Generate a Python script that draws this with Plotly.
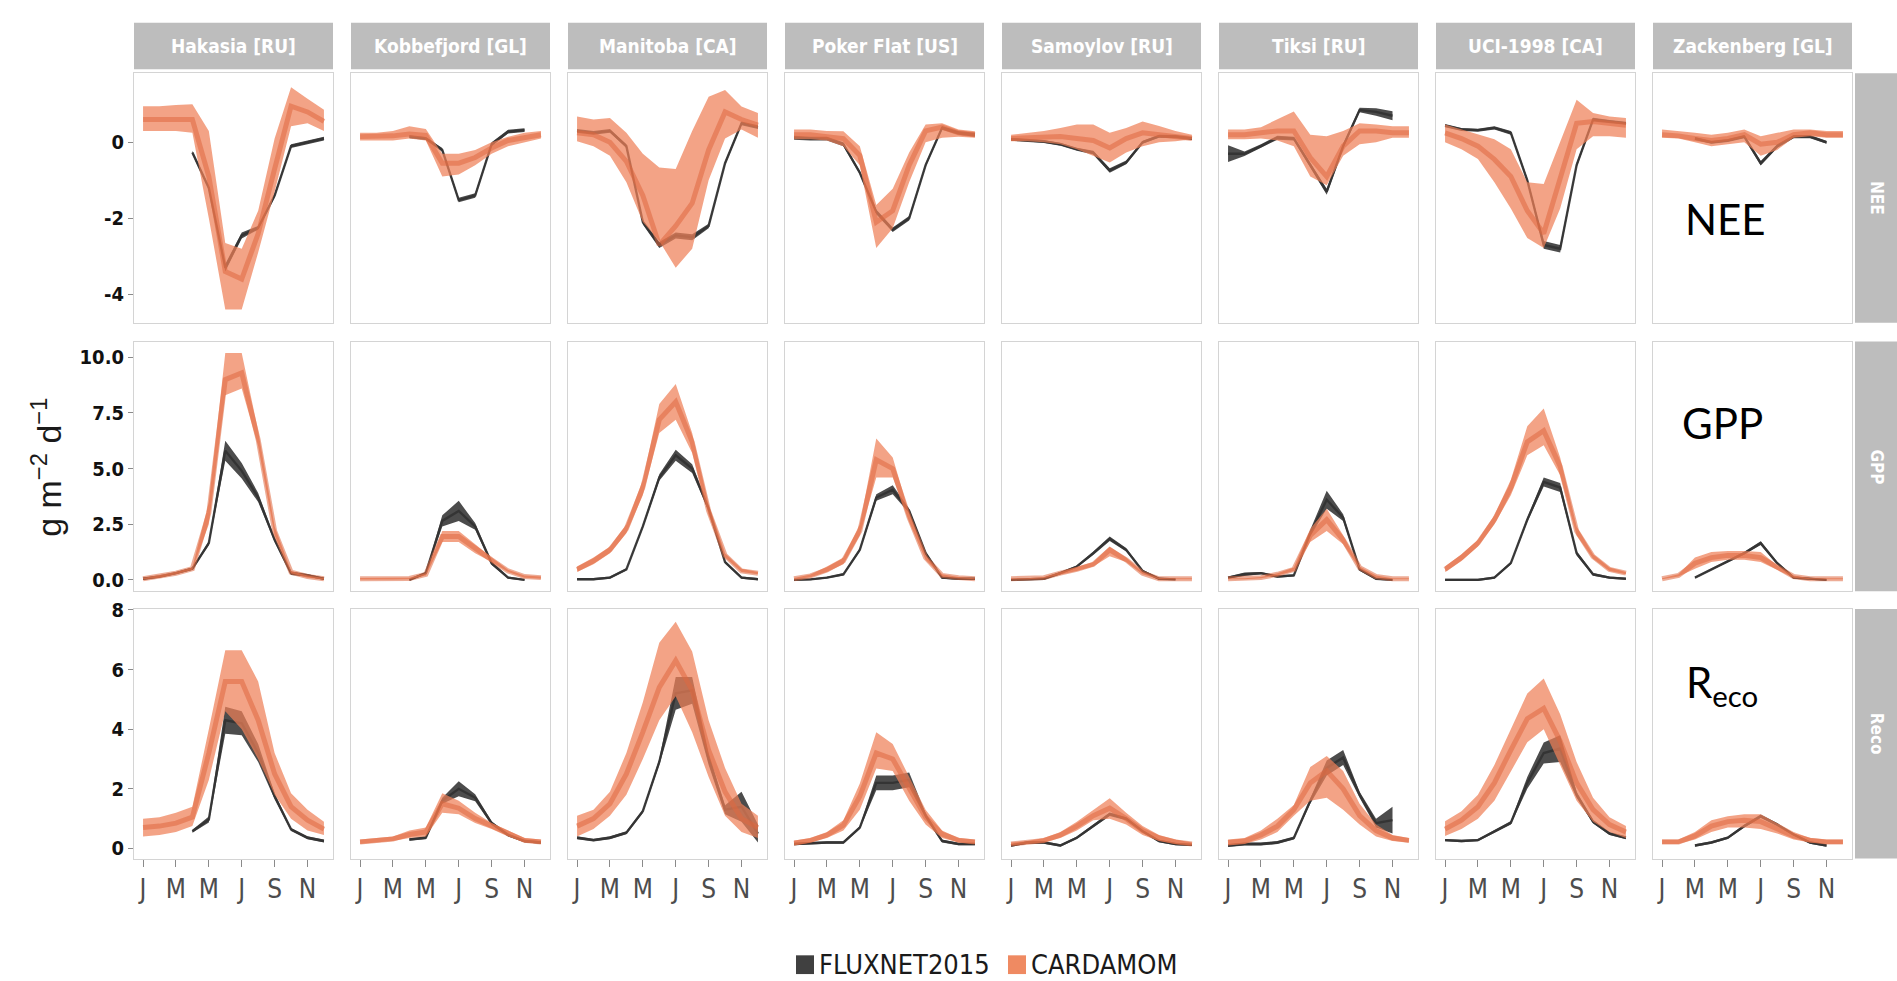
import plotly.graph_objects as go

W, H = 1897, 981

SITES = ["Hakasia [RU]", "Kobbefjord [GL]", "Manitoba [CA]", "Poker Flat [US]",
         "Samoylov [RU]", "Tiksi [RU]", "UCI-1998 [CA]", "Zackenberg [GL]"]
VARIABLES = ["NEE", "GPP", "Reco"]
VAR_LABELS = ["NEE", "GPP", "R<sub>eco</sub>"]
MONTHS = [1, 2, 3, 4, 5, 6, 7, 8, 9, 10, 11, 12]
MONTH_TICKS = [1, 3, 5, 7, 9, 11]
MONTH_LABELS = ["J", "M", "M", "J", "S", "N"]
N = None

# ---------------- NEE ----------------
NEE_FLX_MID = [
    [N, N, N, -0.27, -1.2, -3.3, -2.45, -2.25, -1.4, -0.1, 0.0, 0.1],
    [N, N, N, 0.15, 0.1, -0.2, -1.52, -1.4, -0.05, 0.28, 0.32, N],
    [0.3, 0.25, 0.3, -0.1, -2.1, -2.7, -2.45, -2.5, -2.2, -0.55, 0.5, 0.4],
    [0.12, 0.1, 0.1, -0.05, -0.8, -1.83, -2.3, -2.0, -0.6, 0.38, 0.25, 0.2],
    [0.08, 0.05, 0.02, -0.05, -0.18, -0.27, -0.74, -0.53, 0.0, 0.16, 0.15, 0.1],
    [-0.3, -0.3, -0.1, 0.12, 0.1, -0.6, -1.3, -0.1, 0.85, 0.8, 0.7, N],
    [0.44, 0.34, 0.32, 0.38, 0.25, -1.0, -2.7, -2.8, -0.6, 0.6, 0.55, 0.5],
    [N, N, 0.1, 0.0, 0.05, 0.15, -0.55, -0.1, 0.15, 0.15, 0.0, N],
]
NEE_FLX_SD = [
    [N, N, N, 0.05, 0.05, 0.1, 0.08, 0.05, 0.05, 0.05, 0.05, 0.05],
    [N, N, N, 0.04, 0.04, 0.05, 0.06, 0.06, 0.05, 0.05, 0.05, N],
    [0.05, 0.05, 0.05, 0.05, 0.06, 0.08, 0.08, 0.08, 0.06, 0.05, 0.05, 0.05],
    [0.05, 0.05, 0.05, 0.05, 0.05, 0.06, 0.06, 0.06, 0.05, 0.05, 0.05, 0.05],
    [0.04, 0.04, 0.04, 0.04, 0.04, 0.05, 0.06, 0.05, 0.04, 0.04, 0.04, 0.04],
    [0.22, 0.06, 0.05, 0.05, 0.05, 0.05, 0.08, 0.06, 0.06, 0.1, 0.12, N],
    [0.04, 0.04, 0.04, 0.04, 0.05, 0.06, 0.1, 0.1, 0.06, 0.05, 0.04, 0.04],
    [N, N, 0.04, 0.04, 0.04, 0.04, 0.06, 0.05, 0.04, 0.04, 0.04, N],
]
NEE_CAR_LO = [
    [0.3, 0.3, 0.3, 0.25, -2.0, -4.4, -4.4, -2.9, -1.3, 0.42, 0.5, 0.3],
    [0.05, 0.05, 0.05, 0.1, 0.05, -0.9, -0.85, -0.6, -0.3, -0.1, 0.0, 0.1],
    [0.03, -0.1, -0.35, -1.05, -2.1, -2.6, -3.3, -2.8, -1.0, 0.1, 0.34, 0.12],
    [0.08, 0.08, 0.05, -0.1, -0.6, -2.78, -2.26, -1.05, 0.0, 0.12, 0.15, 0.12],
    [0.03, 0.03, 0.0, -0.05, -0.18, -0.35, -0.53, -0.27, -0.1, 0.0, 0.03, 0.08],
    [0.08, 0.08, 0.1, 0.05, -0.1, -0.9, -1.13, -0.35, -0.05, 0.0, 0.12, 0.12],
    [0.0, -0.18, -0.44, -1.05, -1.74, -2.52, -2.78, -1.74, -0.18, 0.16, 0.16, 0.12],
    [0.12, 0.1, 0.0, -0.1, -0.05, 0.0, -0.35, -0.2, 0.12, 0.16, 0.12, 0.12],
]
NEE_CAR_MID = [
    [0.6, 0.6, 0.62, 0.6, -0.9, -3.4, -3.6, -2.4, -0.7, 0.95, 0.8, 0.55],
    [0.15, 0.15, 0.17, 0.22, 0.18, -0.55, -0.55, -0.4, -0.15, 0.05, 0.12, 0.2],
    [0.25, 0.2, 0.0, -0.5, -1.4, -2.7, -2.2, -1.6, -0.2, 0.8, 0.6, 0.45],
    [0.2, 0.2, 0.15, 0.1, -0.35, -2.1, -1.8, -0.6, 0.3, 0.4, 0.25, 0.2],
    [0.1, 0.12, 0.12, 0.15, 0.1, 0.05, -0.15, 0.1, 0.25, 0.2, 0.12, 0.1],
    [0.2, 0.2, 0.25, 0.3, 0.3, -0.4, -0.9, -0.1, 0.3, 0.3, 0.25, 0.25],
    [0.25, 0.1, -0.1, -0.45, -0.9, -1.8, -2.4, -0.9, 0.5, 0.55, 0.5, 0.45],
    [0.2, 0.17, 0.1, 0.05, 0.1, 0.2, -0.05, 0.0, 0.2, 0.25, 0.2, 0.2],
]
NEE_CAR_HI = [
    [0.95, 0.95, 0.98, 1.0, 0.3, -2.65, -2.8, -1.8, 0.1, 1.45, 1.15, 0.86],
    [0.25, 0.25, 0.3, 0.42, 0.35, -0.3, -0.3, -0.2, 0.0, 0.15, 0.25, 0.3],
    [0.68, 0.6, 0.64, 0.25, -0.3, -0.66, -0.7, 0.3, 1.2, 1.38, 0.94, 0.77],
    [0.34, 0.34, 0.3, 0.29, -0.1, -1.65, -1.22, -0.27, 0.47, 0.5, 0.34, 0.29],
    [0.2, 0.25, 0.3, 0.38, 0.47, 0.47, 0.25, 0.38, 0.55, 0.43, 0.3, 0.2],
    [0.34, 0.34, 0.4, 0.6, 0.81, 0.2, 0.16, 0.3, 0.5, 0.47, 0.42, 0.42],
    [0.47, 0.34, 0.2, 0.08, -0.18, -1.05, -1.1, 0.0, 1.12, 0.77, 0.68, 0.64],
    [0.34, 0.3, 0.25, 0.2, 0.25, 0.34, 0.16, 0.25, 0.34, 0.34, 0.3, 0.3],
]

# ---------------- GPP ----------------
GPP_FLX_MID = [
    [0.05, 0.15, 0.3, 0.5, 1.65, 5.8, 4.9, 3.7, 1.8, 0.3, 0.2, 0.05],
    [N, N, N, 0.0, 0.3, 2.65, 3.1, 2.4, 0.75, 0.1, 0.0, N],
    [0.03, 0.03, 0.1, 0.47, 2.4, 4.6, 5.6, 5.0, 3.2, 0.8, 0.1, 0.03],
    [0.0, 0.02, 0.1, 0.25, 1.35, 3.7, 4.05, 3.1, 1.2, 0.1, 0.05, 0.05],
    [0.0, 0.02, 0.05, 0.3, 0.6, 1.2, 1.85, 1.35, 0.4, 0.05, 0.02, N],
    [0.1, 0.25, 0.3, 0.15, 0.2, 2.1, 3.6, 2.8, 0.47, 0.05, 0.0, N],
    [0.0, 0.0, 0.0, 0.1, 0.75, 2.7, 4.4, 4.15, 1.2, 0.25, 0.1, 0.05],
    [N, N, 0.1, 0.47, 0.85, 1.2, 1.65, 0.75, 0.1, 0.05, 0.0, N],
]
GPP_FLX_SD = [
    [0.04, 0.04, 0.04, 0.05, 0.1, 0.45, 0.35, 0.2, 0.1, 0.08, 0.06, 0.05],
    [N, N, N, 0.04, 0.05, 0.25, 0.45, 0.15, 0.08, 0.05, 0.04, N],
    [0.05, 0.05, 0.05, 0.05, 0.08, 0.15, 0.25, 0.2, 0.1, 0.06, 0.05, 0.05],
    [0.04, 0.04, 0.04, 0.05, 0.08, 0.15, 0.2, 0.1, 0.08, 0.05, 0.04, 0.04],
    [0.04, 0.04, 0.04, 0.05, 0.05, 0.08, 0.1, 0.08, 0.05, 0.04, 0.04, N],
    [0.05, 0.08, 0.05, 0.05, 0.05, 0.15, 0.4, 0.15, 0.06, 0.04, 0.04, N],
    [0.05, 0.05, 0.05, 0.05, 0.06, 0.1, 0.2, 0.2, 0.1, 0.06, 0.05, 0.05],
    [N, N, 0.04, 0.04, 0.05, 0.06, 0.08, 0.06, 0.05, 0.04, 0.04, N],
]
GPP_CAR_LO = [
    [0.03, 0.1, 0.25, 0.45, 2.5, 8.3, 8.6, 6.0, 2.0, 0.3, 0.1, 0.02],
    [0.02, 0.02, 0.02, 0.03, 0.2, 1.7, 1.7, 1.2, 0.8, 0.35, 0.1, 0.05],
    [0.35, 0.7, 1.2, 2.1, 3.8, 6.6, 7.2, 5.7, 2.9, 1.0, 0.35, 0.25],
    [0.02, 0.12, 0.35, 0.7, 2.0, 4.6, 4.6, 2.6, 0.9, 0.15, 0.07, 0.03],
    [0.03, 0.03, 0.07, 0.25, 0.4, 0.6, 1.06, 0.8, 0.25, 0.03, 0.03, 0.03],
    [0.03, 0.03, 0.07, 0.2, 0.4, 1.7, 2.2, 1.6, 0.5, 0.1, 0.03, 0.03],
    [0.35, 0.85, 1.5, 2.5, 3.8, 5.6, 6.05, 4.7, 2.0, 0.95, 0.4, 0.25],
    [0.03, 0.15, 0.5, 0.8, 0.9, 0.9, 0.8, 0.45, 0.1, 0.03, 0.03, 0.03],
]
GPP_CAR_MID = [
    [0.05, 0.15, 0.3, 0.5, 3.0, 9.0, 9.3, 6.3, 2.2, 0.35, 0.15, 0.05],
    [0.05, 0.05, 0.05, 0.06, 0.25, 1.95, 1.95, 1.4, 0.9, 0.4, 0.15, 0.1],
    [0.47, 0.85, 1.35, 2.3, 4.15, 7.2, 8.0, 6.2, 3.1, 1.1, 0.4, 0.3],
    [0.05, 0.18, 0.45, 0.85, 2.2, 5.4, 5.0, 2.8, 1.0, 0.2, 0.1, 0.05],
    [0.05, 0.05, 0.1, 0.3, 0.47, 0.7, 1.35, 0.9, 0.3, 0.05, 0.05, 0.05],
    [0.05, 0.05, 0.1, 0.25, 0.47, 2.0, 2.7, 1.8, 0.55, 0.15, 0.05, 0.05],
    [0.47, 1.0, 1.65, 2.7, 4.15, 6.2, 6.7, 5.1, 2.2, 1.05, 0.47, 0.3],
    [0.05, 0.2, 0.75, 1.0, 1.1, 1.1, 1.0, 0.55, 0.15, 0.05, 0.05, 0.05],
]
GPP_CAR_HI = [
    [0.08, 0.2, 0.35, 0.55, 3.5, 10.2, 10.2, 6.7, 2.4, 0.4, 0.2, 0.08],
    [0.08, 0.08, 0.08, 0.1, 0.3, 2.2, 2.2, 1.6, 1.0, 0.45, 0.2, 0.15],
    [0.6, 1.0, 1.5, 2.5, 4.5, 7.9, 8.8, 6.6, 3.4, 1.2, 0.5, 0.35],
    [0.08, 0.24, 0.6, 1.0, 2.5, 6.35, 5.5, 3.0, 1.1, 0.25, 0.13, 0.07],
    [0.07, 0.07, 0.13, 0.35, 0.55, 0.8, 1.5, 1.0, 0.35, 0.08, 0.07, 0.07],
    [0.07, 0.07, 0.13, 0.3, 0.55, 2.3, 3.2, 2.0, 0.6, 0.2, 0.07, 0.07],
    [0.6, 1.15, 1.8, 2.9, 4.5, 6.9, 7.7, 5.5, 2.4, 1.15, 0.55, 0.35],
    [0.07, 0.25, 1.0, 1.25, 1.3, 1.3, 1.25, 0.65, 0.2, 0.07, 0.07, 0.07],
]

# ---------------- Reco ----------------
RECO_FLX_MID = [
    [N, N, N, 0.58, 0.97, 4.3, 4.2, 3.2, 1.75, 0.64, 0.36, 0.25],
    [N, N, N, 0.3, 0.36, 1.6, 2.0, 1.7, 0.85, 0.45, 0.25, 0.2],
    [0.36, 0.28, 0.36, 0.53, 1.25, 2.9, 5.2, 5.3, 3.0, 1.3, 1.4, 0.5],
    [0.15, 0.18, 0.2, 0.2, 0.7, 2.2, 2.2, 2.3, 1.1, 0.25, 0.15, 0.15],
    [0.1, 0.2, 0.2, 0.1, 0.36, 0.75, 1.15, 1.0, 0.58, 0.25, 0.15, 0.12],
    [0.1, 0.15, 0.15, 0.2, 0.35, 1.6, 2.7, 3.05, 1.8, 0.85, 0.95, N],
    [0.28, 0.25, 0.28, 0.58, 0.86, 2.2, 3.2, 3.35, 1.8, 0.9, 0.5, 0.36],
    [N, N, 0.1, 0.2, 0.36, 0.75, 1.08, 0.8, 0.47, 0.2, 0.1, N],
]
RECO_FLX_SD = [
    [N, N, N, 0.05, 0.1, 0.45, 0.4, 0.3, 0.1, 0.05, 0.05, 0.05],
    [N, N, N, 0.04, 0.05, 0.1, 0.25, 0.12, 0.06, 0.05, 0.04, 0.04],
    [0.05, 0.05, 0.05, 0.05, 0.06, 0.1, 0.55, 0.45, 0.2, 0.15, 0.5, 0.3],
    [0.04, 0.04, 0.04, 0.04, 0.05, 0.25, 0.25, 0.25, 0.08, 0.05, 0.04, 0.04],
    [0.04, 0.04, 0.04, 0.04, 0.04, 0.05, 0.06, 0.05, 0.04, 0.04, 0.04, 0.04],
    [0.05, 0.05, 0.05, 0.05, 0.05, 0.1, 0.25, 0.25, 0.1, 0.15, 0.45, N],
    [0.04, 0.04, 0.04, 0.05, 0.06, 0.2, 0.35, 0.45, 0.1, 0.06, 0.05, 0.05],
    [N, N, 0.04, 0.04, 0.04, 0.05, 0.06, 0.05, 0.04, 0.04, 0.04, N],
]
RECO_CAR_LO = [
    [0.4, 0.45, 0.55, 0.75, 2.3, 4.6, 4.0, 3.0, 1.8, 1.0, 0.6, 0.45],
    [0.15, 0.2, 0.25, 0.35, 0.4, 1.2, 1.15, 0.85, 0.65, 0.4, 0.2, 0.15],
    [0.4, 0.65, 1.1, 1.8, 3.0, 4.3, 5.1, 3.9, 2.4, 1.1, 0.55, 0.35],
    [0.1, 0.2, 0.35, 0.6, 1.3, 2.68, 2.6, 1.6, 0.8, 0.35, 0.2, 0.15],
    [0.1, 0.15, 0.2, 0.35, 0.6, 0.95, 1.0, 0.8, 0.45, 0.25, 0.15, 0.1],
    [0.1, 0.15, 0.3, 0.55, 1.1, 1.6, 1.7, 1.3, 0.8, 0.4, 0.25, 0.2],
    [0.42, 0.65, 1.0, 1.6, 2.57, 3.56, 4.0, 2.8, 1.6, 0.9, 0.55, 0.35],
    [0.15, 0.15, 0.3, 0.55, 0.7, 0.7, 0.65, 0.5, 0.3, 0.2, 0.15, 0.15],
]
RECO_CAR_MID = [
    [0.7, 0.75, 0.85, 1.05, 3.2, 5.6, 5.6, 4.3, 2.5, 1.4, 0.95, 0.65],
    [0.22, 0.27, 0.32, 0.47, 0.55, 1.5, 1.35, 1.0, 0.75, 0.5, 0.27, 0.22],
    [0.75, 1.0, 1.5, 2.5, 3.9, 5.4, 6.3, 5.3, 3.3, 1.9, 1.0, 0.7],
    [0.18, 0.27, 0.45, 0.78, 1.75, 3.2, 3.0, 2.0, 1.05, 0.48, 0.28, 0.22],
    [0.15, 0.2, 0.27, 0.45, 0.75, 1.1, 1.35, 1.0, 0.6, 0.35, 0.22, 0.15],
    [0.2, 0.25, 0.45, 0.75, 1.3, 2.2, 2.6, 2.0, 1.1, 0.6, 0.35, 0.27],
    [0.65, 0.95, 1.4, 2.2, 3.3, 4.35, 4.7, 3.6, 2.2, 1.3, 0.8, 0.55],
    [0.22, 0.22, 0.42, 0.75, 0.9, 0.95, 0.9, 0.68, 0.42, 0.28, 0.22, 0.22],
]
RECO_CAR_HI = [
    [1.0, 1.05, 1.2, 1.4, 4.0, 6.65, 6.65, 5.6, 3.2, 1.85, 1.3, 0.9],
    [0.3, 0.35, 0.4, 0.6, 0.7, 1.85, 1.6, 1.2, 0.85, 0.6, 0.35, 0.3],
    [1.1, 1.3, 1.9, 3.2, 4.9, 6.9, 7.6, 6.6, 4.3, 2.7, 1.5, 1.1],
    [0.27, 0.35, 0.55, 0.95, 2.18, 3.9, 3.5, 2.4, 1.3, 0.6, 0.35, 0.3],
    [0.2, 0.25, 0.35, 0.55, 0.9, 1.3, 1.68, 1.2, 0.75, 0.45, 0.3, 0.2],
    [0.3, 0.35, 0.6, 1.0, 1.46, 2.73, 3.1, 2.6, 1.5, 0.8, 0.45, 0.35],
    [0.91, 1.25, 1.8, 2.8, 4.0, 5.2, 5.7, 4.5, 2.9, 1.7, 1.05, 0.75],
    [0.3, 0.3, 0.55, 0.95, 1.08, 1.15, 1.15, 0.85, 0.55, 0.35, 0.3, 0.3],
]

Y_RANGES = [[-4.75, 1.82], [-0.51, 10.71], [-0.34, 8.03]]
Y_TICKS = [[-4, -2, 0], [0, 2.5, 5, 7.5, 10], [0, 2, 4, 6, 8]]
Y_TICKTEXT = [["-4", "-2", "0"], ["0.0", "2.5", "5.0", "7.5", "10.0"], ["0", "2", "4", "6", "8"]]

FLX_SERIES = [(NEE_FLX_MID, NEE_FLX_SD), (GPP_FLX_MID, GPP_FLX_SD), (RECO_FLX_MID, RECO_FLX_SD)]
CAR_SERIES = [(NEE_CAR_LO, NEE_CAR_MID, NEE_CAR_HI), (GPP_CAR_LO, GPP_CAR_MID, GPP_CAR_HI),
              (RECO_CAR_LO, RECO_CAR_MID, RECO_CAR_HI)]

# ---------------- styling / layout ----------------
FLX_FILL = "rgba(45,45,45,0.85)"
FLX_LINE = "rgba(50,50,50,0.9)"
CAR_FILL = "rgba(239,128,88,0.72)"
CAR_LINE = "rgba(222,104,64,0.55)"
STRIP = "#bdbdbd"
BORDER = "#d4d4d4"
NARROW = "Liberation Sans Narrow, DejaVu Sans Condensed, Arial Narrow, sans-serif"

COL_LEFT = [134 + 217 * i for i in range(8)]
COL_W = 199
ROW_TOP = [63, 335, 606]
ROW_BOT = [316, 588, 859]


def px(x):
    return x / W


def py(y):
    return 1 - y / H


fig = go.Figure()
layout = dict(width=W, height=H, margin=dict(l=0, r=0, t=0, b=0),
              paper_bgcolor="white", plot_bgcolor="white", showlegend=False)
shapes, annotations = [], []

k = 0
for r in range(3):
    for c in range(8):
        k += 1
        xa = "x" if k == 1 else f"x{k}"
        ya = "y" if k == 1 else f"y{k}"
        xkey = "xaxis" if k == 1 else f"xaxis{k}"
        ykey = "yaxis" if k == 1 else f"yaxis{k}"
        bottom = r == 2
        left = c == 0
        layout[xkey] = dict(
            domain=[px(COL_LEFT[c]), px(COL_LEFT[c] + COL_W)], anchor=ya,
            range=[0.45, 12.55], showgrid=False, zeroline=False,
            showline=True, mirror=True, linecolor=BORDER, linewidth=1,
            tickvals=MONTH_TICKS, ticktext=MONTH_LABELS,
            ticks="outside" if bottom else "", ticklen=7, tickcolor="#8a8a8a",
            showticklabels=bottom,
            tickfont=dict(family=NARROW, size=26, color="#4d4d4d"))
        layout[ykey] = dict(
            domain=[py(ROW_BOT[r]), py(ROW_TOP[r])], anchor=xa,
            range=Y_RANGES[r], showgrid=False, zeroline=False,
            showline=True, mirror=True, linecolor=BORDER, linewidth=1,
            tickvals=Y_TICKS[r], ticktext=Y_TICKTEXT[r],
            ticks="outside" if left else "", ticklen=5, tickcolor="#8a8a8a",
            showticklabels=left,
            tickfont=dict(family=NARROW, size=20, color="#111111", weight="bold"))

        # FLUXNET2015 band + line
        mid_all, sd_all = FLX_SERIES[r][0][c], FLX_SERIES[r][1][c]
        xs = [m for m, v in zip(MONTHS, mid_all) if v is not None]
        mids = [v for v in mid_all if v is not None]
        sds = [s for s in sd_all if s is not None]
        hi = [m + s for m, s in zip(mids, sds)]
        lo = [m - s for m, s in zip(mids, sds)]
        fig.add_trace(go.Scatter(x=xs + xs[::-1], y=hi + lo[::-1], fill="toself",
                                 fillcolor=FLX_FILL, line=dict(width=0), mode="lines",
                                 hoverinfo="skip", xaxis=xa, yaxis=ya, name="FLUXNET2015"))
        fig.add_trace(go.Scatter(x=xs, y=mids, mode="lines", line=dict(color=FLX_LINE, width=2.4),
                                 xaxis=xa, yaxis=ya, name="FLUXNET2015"))

        # CARDAMOM band + median
        lo_c, mid_c, hi_c = (s[c] for s in CAR_SERIES[r])
        fig.add_trace(go.Scatter(x=MONTHS + MONTHS[::-1], y=hi_c + lo_c[::-1], fill="toself",
                                 fillcolor=CAR_FILL, line=dict(width=0), mode="lines",
                                 hoverinfo="skip", xaxis=xa, yaxis=ya, name="CARDAMOM"))
        fig.add_trace(go.Scatter(x=MONTHS, y=mid_c, mode="lines", line=dict(color=CAR_LINE, width=5),
                                 xaxis=xa, yaxis=ya, name="CARDAMOM"))

# top strips
for c, site in enumerate(SITES):
    shapes.append(dict(type="rect", xref="paper", yref="paper", layer="below",
                       x0=px(COL_LEFT[c]), x1=px(COL_LEFT[c] + COL_W), y0=py(59), y1=py(12),
                       fillcolor=STRIP, line=dict(width=0)))
    annotations.append(dict(xref="paper", yref="paper", x=px(COL_LEFT[c] + COL_W / 2), y=py(35.5),
                            text=site, showarrow=False, xanchor="center", yanchor="middle",
                            font=dict(family=NARROW, size=19, color="white", weight="bold")))

# right strips
for r, var in enumerate(VARIABLES):
    shapes.append(dict(type="rect", xref="paper", yref="paper", layer="below",
                       x0=px(1855), x1=1.0, y0=py(ROW_BOT[r]), y1=py(ROW_TOP[r]),
                       fillcolor=STRIP, line=dict(width=0)))
    annotations.append(dict(xref="paper", yref="paper", x=px(1877), y=py((ROW_TOP[r] + ROW_BOT[r]) / 2),
                            text=var, showarrow=False, textangle=90, xanchor="center", yanchor="middle",
                            font=dict(family=NARROW, size=17, color="white", weight="bold")))

# big in-panel labels
LABEL_POS = [(1725, 211), (1722, 418), (1722, 683)]
for (lx, ly), lab in zip(LABEL_POS, VAR_LABELS):
    annotations.append(dict(xref="paper", yref="paper", x=px(lx), y=py(ly), text=lab,
                            showarrow=False, xanchor="center", yanchor="middle",
                            font=dict(family="Lato, Open Sans, sans-serif", size=42, color="black")))

# y axis title
annotations.append(dict(xref="paper", yref="paper", x=px(47), y=py(463),
                        text="g m<sup>−2</sup> d<sup>−1</sup>", showarrow=False, textangle=-90,
                        xanchor="center", yanchor="middle",
                        font=dict(family="Liberation Sans, Arial, sans-serif", size=34, color="#1a1a1a")))

# legend
LEGEND = [("FLUXNET2015", "#404040", 796), ("CARDAMOM", "#EF8A62", 1008)]
for name, col, x0 in LEGEND:
    shapes.append(dict(type="rect", xref="paper", yref="paper", x0=px(x0), x1=px(x0 + 18),
                       y0=py(976), y1=py(957), fillcolor=col, line=dict(width=0)))
    annotations.append(dict(xref="paper", yref="paper", x=px(x0 + 21), y=py(966.5), text=name,
                            showarrow=False, xanchor="left", yanchor="middle",
                            font=dict(family=NARROW, size=27, color="#1a1a1a")))

layout["shapes"] = shapes
layout["annotations"] = annotations
fig.update_layout(**layout)
fig.write_html("out.html")
